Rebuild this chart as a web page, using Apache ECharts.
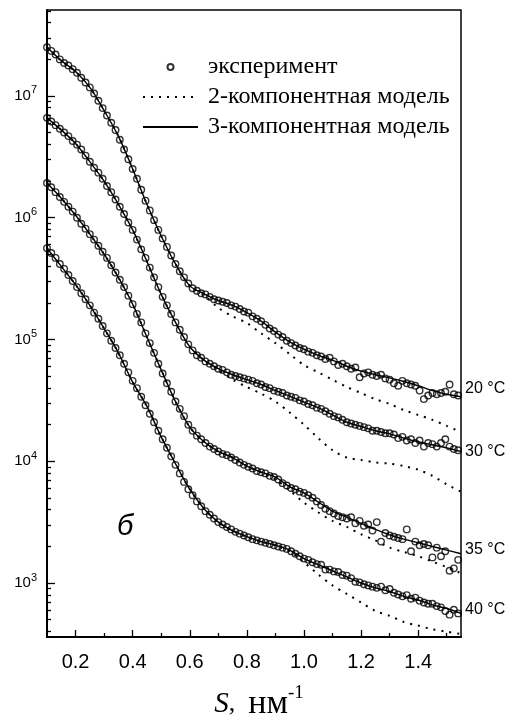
<!DOCTYPE html>
<html>
<head>
<meta charset="utf-8">
<script src="https://cdn.jsdelivr.net/npm/echarts@6/dist/echarts.min.js"></script>
<style>
  html, body { margin: 0; padding: 0; background: #fff; }
  #chart { width: 510px; height: 718px; }
</style>
</head>
<body>
<div id="chart"></div>
<script>
// Scattering vector s (nm^-1) of the measured points
const sExp = [0.100,0.115,0.130,0.145,0.160,0.175,0.190,0.205,0.220,0.235,
  0.250,0.265,0.280,0.295,0.310,0.325,0.340,0.355,0.370,0.385,
  0.400,0.415,0.430,0.445,0.460,0.475,0.490,0.505,0.520,0.535,
  0.550,0.565,0.580,0.595,0.610,0.625,0.640,0.655,0.670,0.685,
  0.700,0.715,0.730,0.745,0.760,0.775,0.790,0.805,0.820,0.835,
  0.850,0.865,0.880,0.895,0.910,0.925,0.940,0.955,0.970,0.985,
  1.000,1.015,1.030,1.045,1.060,1.075,1.090,1.105,1.120,1.135,
  1.150,1.165,1.180,1.195,1.210,1.225,1.240,1.255,1.270,1.285,
  1.300,1.315,1.330,1.345,1.360,1.375,1.390,1.405,1.420,1.435,
  1.450,1.465,1.480,1.495,1.510,1.525,1.540];

// Measured intensity, lg I, one array per temperature
const lgExp20 = [7.40,7.37,7.34,7.30,7.27,7.25,7.22,7.19,7.15,7.11,
  7.07,7.02,6.96,6.90,6.84,6.78,6.72,6.64,6.56,6.48,
  6.40,6.32,6.23,6.14,6.06,5.98,5.90,5.83,5.76,5.69,
  5.62,5.56,5.51,5.46,5.42,5.40,5.38,5.37,5.35,5.33,
  5.32,5.31,5.30,5.28,5.27,5.25,5.23,5.22,5.19,5.17,
  5.15,5.12,5.09,5.07,5.04,5.02,4.99,4.97,4.95,4.93,
  4.92,4.90,4.89,4.87,4.86,4.84,4.85,4.82,4.79,4.80,
  4.78,4.76,4.77,4.69,4.72,4.73,4.71,4.70,4.71,4.68,
  4.67,4.64,4.62,4.66,4.64,4.63,4.62,4.58,4.51,4.54,
  4.56,4.55,4.56,4.57,4.63,4.55,4.54];

const lgExp30 = [6.82,6.79,6.76,6.73,6.70,6.67,6.63,6.60,6.56,6.51,
  6.46,6.41,6.37,6.32,6.26,6.21,6.15,6.09,6.03,5.96,
  5.90,5.82,5.74,5.67,5.59,5.51,5.43,5.35,5.28,5.21,
  5.14,5.08,5.02,4.96,4.91,4.87,4.85,4.82,4.80,4.78,
  4.76,4.75,4.73,4.71,4.70,4.69,4.68,4.67,4.66,4.64,
  4.63,4.61,4.60,4.58,4.57,4.56,4.54,4.53,4.52,4.50,
  4.49,4.47,4.46,4.44,4.43,4.41,4.39,4.37,4.36,4.34,
  4.32,4.31,4.30,4.29,4.28,4.27,4.25,4.25,4.24,4.23,
  4.23,4.22,4.19,4.20,4.17,4.18,4.15,4.17,4.12,4.15,
  4.14,4.12,4.15,4.18,4.12,4.10,4.09];

const lgExp35 = [6.285,6.25,6.21,6.17,6.13,6.09,6.05,6.00,5.95,5.91,
  5.865,5.82,5.77,5.72,5.67,5.61,5.55,5.49,5.43,5.36,
  5.29,5.21,5.14,5.05,4.97,4.89,4.80,4.72,4.64,4.57,
  4.49,4.43,4.37,4.30,4.25,4.21,4.18,4.15,4.12,4.10,
  4.08,4.06,4.05,4.03,4.01,3.99,3.97,3.955,3.94,3.92,
  3.91,3.90,3.88,3.87,3.85,3.82,3.80,3.78,3.77,3.75,
  3.74,3.72,3.70,3.67,3.64,3.61,3.59,3.57,3.55,3.54,
  3.53,3.54,3.49,3.51,3.47,3.48,3.43,3.50,3.34,3.41,
  3.39,3.38,3.37,3.36,3.44,3.26,3.34,3.31,3.32,3.31,
  3.21,3.29,3.22,3.26,3.10,3.12,3.19];

const lgExp40 = [5.75,5.71,5.67,5.62,5.58,5.53,5.48,5.43,5.38,5.33,
  5.28,5.22,5.17,5.11,5.05,4.99,4.93,4.87,4.80,4.73,
  4.66,4.60,4.53,4.46,4.39,4.32,4.25,4.18,4.11,4.04,
  3.97,3.90,3.83,3.77,3.72,3.67,3.63,3.59,3.56,3.53,
  3.50,3.48,3.46,3.44,3.42,3.405,3.39,3.375,3.36,3.35,
  3.34,3.33,3.32,3.31,3.30,3.29,3.28,3.26,3.24,3.22,
  3.20,3.19,3.17,3.155,3.15,3.11,3.11,3.095,3.09,3.065,
  3.06,3.04,3.01,3.005,2.99,2.98,2.97,2.96,2.97,2.94,
  2.95,2.92,2.905,2.89,2.90,2.87,2.88,2.855,2.84,2.83,
  2.83,2.81,2.80,2.77,2.74,2.78,2.75];

// Model curves, sampled in s
const sModel = [0.10,0.15,0.20,0.25,0.30,0.35,0.40,0.45,0.50,0.55,
  0.60,0.65,0.70,0.75,0.80,0.85,0.90,0.95,1.00,1.05,
  1.10,1.15,1.20,1.25,1.30,1.35,1.40,1.45,1.50,1.55];

// 2-component model, lg I
const fit2_20 = [7.40,7.29,7.20,7.07,6.88,6.67,6.40,6.11,5.85,5.62,
  5.44,5.365,5.26,5.19,5.135,5.05,4.97,4.88,4.79,4.73,
  4.67,4.61,4.56,4.51,4.47,4.42,4.38,4.34,4.29,4.24];
const fit2_30 = [6.82,6.72,6.61,6.46,6.30,6.11,5.90,5.64,5.37,5.14,
  4.94,4.83,4.75,4.67,4.61,4.555,4.49,4.40,4.30,4.19,
  4.09,4.03,4.01,3.99,3.98,3.96,3.93,3.88,3.81,3.75];
const fit2_35 = [6.285,6.16,6.02,5.865,5.70,5.51,5.29,5.02,4.75,4.49,
  4.28,4.16,4.08,4.03,3.96,3.91,3.85,3.76,3.66,3.58,
  3.51,3.46,3.40,3.35,3.29,3.255,3.22,3.175,3.13,3.08];
const fit2_40 = [5.75,5.60,5.45,5.28,5.09,4.89,4.65,4.45,4.20,3.98,
  3.77,3.61,3.50,3.43,3.38,3.34,3.31,3.26,3.17,3.07,
  2.98,2.91,2.84,2.77,2.73,2.68,2.65,2.62,2.60,2.58];

// 3-component model, lg I
const fit3_20 = [7.40,7.29,7.20,7.07,6.88,6.67,6.40,6.11,5.85,5.62,
  5.44,5.375,5.32,5.28,5.22,5.15,5.06,4.98,4.92,4.87,
  4.83,4.78,4.74,4.71,4.685,4.655,4.62,4.58,4.55,4.53];
const fit3_30 = [6.82,6.72,6.61,6.46,6.30,6.11,5.90,5.64,5.37,5.14,
  4.94,4.83,4.76,4.71,4.67,4.63,4.58,4.535,4.485,4.44,
  4.38,4.32,4.285,4.25,4.225,4.19,4.16,4.135,4.11,4.08];
const fit3_35 = [6.285,6.16,6.02,5.865,5.70,5.51,5.29,5.02,4.75,4.49,
  4.28,4.16,4.08,4.03,3.96,3.91,3.87,3.79,3.74,3.665,
  3.59,3.54,3.49,3.44,3.395,3.36,3.33,3.30,3.27,3.24];
const fit3_40 = [5.75,5.60,5.45,5.28,5.09,4.89,4.65,4.45,4.20,3.98,
  3.77,3.61,3.50,3.43,3.38,3.34,3.31,3.27,3.20,3.15,
  3.10,3.05,3.00,2.96,2.93,2.89,2.86,2.82,2.79,2.75];

const tempLabels = ['20 °C', '30 °C', '35 °C', '40 °C'];
const legendNames = ['эксперимент', '2-компонентная модель', '3-компонентная модель'];
const xTickValues = [0.2, 0.4, 0.6, 0.8, 1.0, 1.2, 1.4];
const xMinorValues = [0.3, 0.5, 0.7, 0.9, 1.1, 1.3, 1.5];
const yDecades = [1e3, 1e4, 1e5, 1e6, 1e7];

const X_MIN = 0.1, X_MAX = 1.55;
const Y_MIN = 360, Y_MAX = 5.08e7;

// minor log ticks at 2..9 of every decade inside the range
const yMinorValues = [];
for (let e = 2; e <= 7; e++) {
  for (let k = 2; k <= 9; k++) {
    const v = k * Math.pow(10, e);
    if (v > Y_MIN && v < Y_MAX) yMinorValues.push(v);
  }
}

const toPoints = (xs, lg) => xs.map((x, i) => [x, Math.pow(10, lg[i])]);

const expSets = [lgExp20, lgExp30, lgExp35, lgExp40];
const fit2Sets = [fit2_20, fit2_30, fit2_35, fit2_40];
const fit3Sets = [fit3_20, fit3_30, fit3_35, fit3_40];
const endOffsets = [[0, -8], [0, 0], [0, -4], [0, -4]];

const series = [];
fit2Sets.forEach((lg) => {
  series.push({
    type: 'line', name: legendNames[1], data: toPoints(sModel, lg),
    symbol: 'none', showSymbol: false, smooth: 0.3, z: 1,
    itemStyle: { color: '#000' },
    lineStyle: { color: '#000', width: 2, type: [2, 6] }
  });
});
fit3Sets.forEach((lg, i) => {
  series.push({
    type: 'line', name: legendNames[2], data: toPoints(sModel, lg),
    symbol: 'none', showSymbol: false, smooth: 0.3, z: 2,
    itemStyle: { color: '#000' },
    lineStyle: { color: '#000', width: 1.4 },
    endLabel: {
      show: true, formatter: tempLabels[i], distance: 4, offset: endOffsets[i],
      color: '#000', fontSize: 16, fontFamily: 'Liberation Sans'
    }
  });
});
expSets.forEach((lg) => {
  series.push({
    type: 'scatter', name: legendNames[0], data: toPoints(sExp, lg),
    symbol: 'circle', symbolSize: 6.5, z: 3,
    itemStyle: { color: 'rgba(0,0,0,0)', borderColor: '#000', borderWidth: 1.4 }
  });
});

const axisBlack = { color: '#000', width: 1.3 };

const option = {
  animation: false,
  backgroundColor: '#fff',
  textStyle: { fontFamily: 'Liberation Sans', color: '#000' },
  grid: {
    left: 47, right: 49, top: 10, bottom: 81,
    outerBoundsMode: 'none',
    show: true, borderColor: '#000', borderWidth: 1.5, backgroundColor: 'transparent'
  },
  legend: {
    orient: 'vertical', left: 142, top: 55, padding: 0,
    itemWidth: 55, itemHeight: 6, itemGap: 6,
    selectedMode: false,
    data: [
      { name: legendNames[0] },
      { name: legendNames[1], itemStyle: { opacity: 0 } },
      { name: legendNames[2], itemStyle: { opacity: 0 } }
    ],
    textStyle: { fontFamily: 'Liberation Serif', fontSize: 24, color: '#000', padding: [0, 0, 0, 5] }
  },
  xAxis: [{
    type: 'value', min: X_MIN, max: X_MAX, position: 'bottom',
    axisLine: { show: true, lineStyle: { color: '#000', width: 2 } },
    axisTick: { show: true, inside: true, length: 7, customValues: xTickValues, lineStyle: axisBlack },
    axisLabel: {
      customValues: xTickValues, formatter: (v) => v.toFixed(1),
      fontSize: 20, fontFamily: 'Liberation Sans', color: '#000', margin: 15
    },
    splitLine: { show: false },
    name: '{s|S}{c|,  }{u|нм}{e|-1}',
    nameLocation: 'middle', nameGap: 47,
    nameTextStyle: {
      padding: [0, 0, 0, 10],
      rich: {
        s: { fontFamily: 'Liberation Serif', fontStyle: 'italic', fontSize: 29, color: '#000' },
        c: { fontFamily: 'Liberation Serif', fontSize: 26, color: '#000' },
        u: { fontFamily: 'Liberation Serif', fontSize: 34, color: '#000' },
        e: { fontFamily: 'Liberation Serif', fontSize: 19, color: '#000', padding: [0, 0, 22, 0] }
      }
    }
  }, {
    type: 'value', min: X_MIN, max: X_MAX, position: 'bottom',
    axisLine: { show: false },
    axisTick: { show: true, inside: true, length: 4, customValues: xMinorValues, lineStyle: axisBlack },
    axisLabel: { show: false },
    splitLine: { show: false }
  }],
  yAxis: [{
    type: 'log', logBase: 10, min: Y_MIN, max: Y_MAX,
    axisLine: { show: true, lineStyle: { color: '#000', width: 2 } },
    axisTick: { show: true, inside: true, length: 8, customValues: yDecades, lineStyle: axisBlack },
    axisLabel: {
      customValues: yDecades,
      formatter: (v) => '{b|10}{e|' + Math.round(Math.log10(v)) + '}',
      margin: 10,
      rich: {
        b: { fontSize: 15, fontFamily: 'Liberation Sans', color: '#000' },
        e: { fontSize: 11, fontFamily: 'Liberation Sans', color: '#000', padding: [0, 0, 11, 0] }
      }
    },
    splitLine: { show: false }
  }, {
    type: 'log', logBase: 10, min: Y_MIN, max: Y_MAX, position: 'left',
    axisLine: { show: false },
    axisTick: { show: true, inside: true, length: 4, customValues: yMinorValues, lineStyle: axisBlack },
    axisLabel: { show: false },
    splitLine: { show: false }
  }],
  graphic: [{
    type: 'text', left: 117, top: 512,
    style: { text: 'б', font: 'italic 29px "Liberation Sans"', fill: '#000' }
  }],
  series: series
};

const chart = echarts.init(document.getElementById('chart'), null, { renderer: 'canvas' });
chart.setOption(option);
</script>
</body>
</html>
